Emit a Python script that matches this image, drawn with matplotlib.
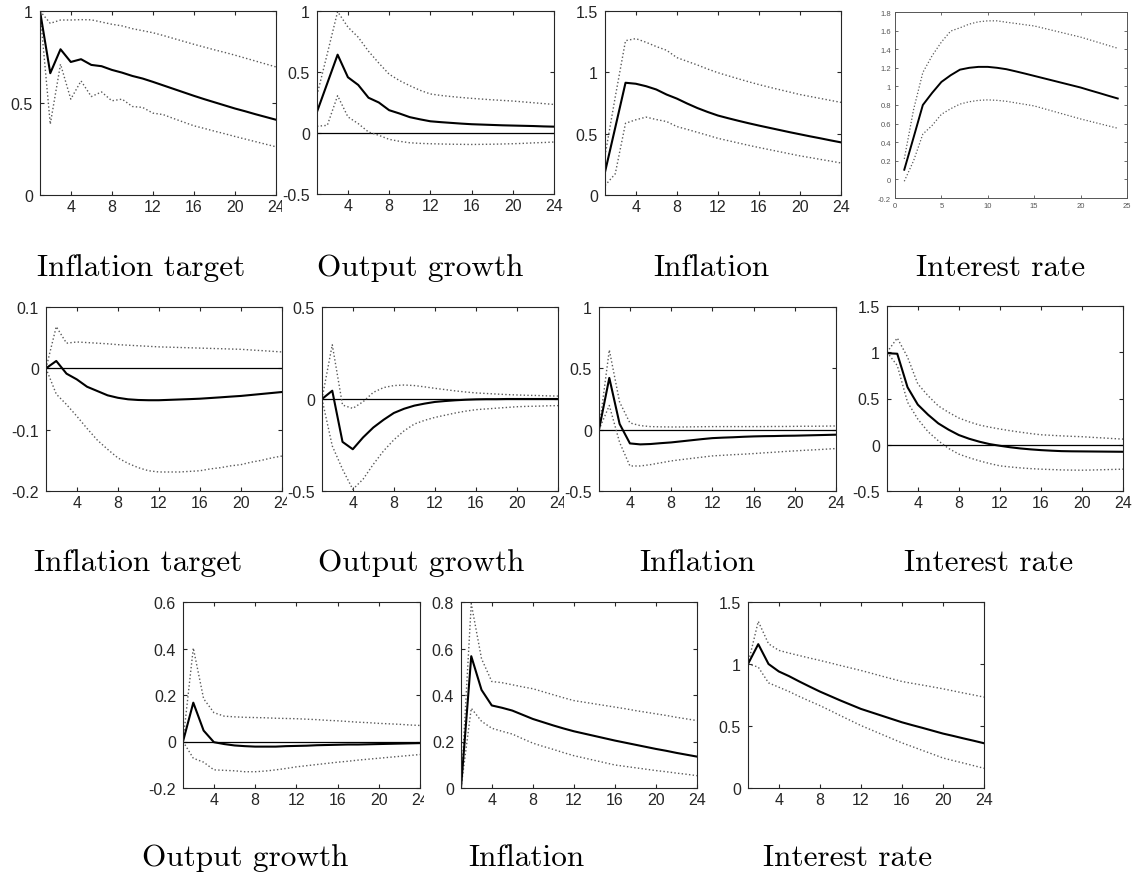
import numpy as np
import matplotlib.pyplot as plt
from matplotlib.ticker import FuncFormatter
from matplotlib.transforms import Bbox, TransformedBbox

plt.rcParams['font.family'] = ['Liberation Sans', 'DejaVu Sans']
plt.rcParams['axes.unicode_minus'] = False

h = np.arange(1, 25)

# row 1 - inflation target shock
it1_med = [1.0, 0.662, 0.792, 0.723, 0.738, 0.707, 0.700, 0.680, 0.665, 0.647, 0.633, 0.615,
           0.596, 0.577, 0.558, 0.539, 0.521, 0.504, 0.487, 0.470, 0.455, 0.439, 0.424, 0.409]
it1_up = [1.0, 0.933, 0.951, 0.951, 0.953, 0.952, 0.940, 0.928, 0.919, 0.904, 0.893, 0.882,
          0.867, 0.851, 0.835, 0.819, 0.804, 0.789, 0.775, 0.760, 0.744, 0.728, 0.712, 0.696]
it1_lo = [1.0, 0.385, 0.711, 0.521, 0.620, 0.535, 0.560, 0.512, 0.521, 0.481, 0.476, 0.445,
          0.437, 0.416, 0.396, 0.376, 0.362, 0.347, 0.333, 0.318, 0.304, 0.290, 0.276, 0.262]

og1_med = [0.174, 0.408, 0.642, 0.457, 0.394, 0.289, 0.250, 0.187, 0.160, 0.130, 0.112, 0.096,
           0.089, 0.083, 0.077, 0.072, 0.069, 0.066, 0.063, 0.061, 0.059, 0.057, 0.054, 0.052]
og1_up = [0.31, 0.65, 0.995, 0.868, 0.785, 0.670, 0.573, 0.482, 0.430, 0.388, 0.350, 0.320,
          0.308, 0.299, 0.291, 0.284, 0.278, 0.272, 0.267, 0.262, 0.255, 0.248, 0.241, 0.234]
og1_lo = [0.055, 0.063, 0.306, 0.132, 0.077, 0.008, -0.019, -0.052, -0.068, -0.080, -0.085, -0.088,
          -0.090, -0.092, -0.093, -0.094, -0.093, -0.092, -0.090, -0.088, -0.085, -0.081, -0.078, -0.074]

inf1_med = [0.187, 0.550, 0.915, 0.907, 0.887, 0.860, 0.819, 0.786, 0.746, 0.709, 0.677, 0.648,
            0.626, 0.605, 0.585, 0.566, 0.548, 0.530, 0.512, 0.495, 0.478, 0.462, 0.445, 0.429]
inf1_up = [0.32, 0.80, 1.258, 1.275, 1.245, 1.210, 1.180, 1.120, 1.090, 1.060, 1.027, 0.997,
           0.972, 0.947, 0.923, 0.900, 0.879, 0.859, 0.839, 0.819, 0.803, 0.787, 0.771, 0.755]
inf1_lo = [0.077, 0.173, 0.585, 0.613, 0.635, 0.615, 0.599, 0.558, 0.535, 0.511, 0.487, 0.462,
           0.443, 0.424, 0.405, 0.387, 0.370, 0.353, 0.336, 0.319, 0.305, 0.290, 0.276, 0.261]

ir1_med = [0.104, 0.450, 0.800, 0.930, 1.048, 1.120, 1.180, 1.200, 1.210, 1.210, 1.200, 1.185,
           1.162, 1.138, 1.113, 1.088, 1.063, 1.038, 1.013, 0.988, 0.958, 0.929, 0.899, 0.870]
ir1_up = [0.22, 0.75, 1.15, 1.33, 1.477, 1.595, 1.630, 1.670, 1.695, 1.705, 1.705, 1.690,
          1.677, 1.663, 1.650, 1.626, 1.602, 1.578, 1.554, 1.530, 1.500, 1.470, 1.440, 1.410]
ir1_lo = [-0.02, 0.20, 0.487, 0.580, 0.700, 0.760, 0.810, 0.835, 0.850, 0.855, 0.850, 0.840,
          0.823, 0.807, 0.790, 0.762, 0.734, 0.706, 0.678, 0.650, 0.625, 0.600, 0.575, 0.550]

# row 2 - interest rate shock
it2_med = [0.0, 0.012, -0.0087, -0.018, -0.030, -0.037, -0.044, -0.048, -0.0505, -0.0516, -0.052, -0.052,
           -0.0514, -0.0508, -0.0502, -0.0495, -0.0484, -0.0473, -0.0461, -0.045, -0.0434, -0.0418, -0.0402, -0.0386]
it2_up = [0.0, 0.068, 0.041, 0.043, 0.042, 0.041, 0.040, 0.0386, 0.0377, 0.0368, 0.0359, 0.035,
          0.0345, 0.034, 0.0335, 0.033, 0.0325, 0.032, 0.0315, 0.031, 0.0299, 0.0289, 0.0278, 0.0267]
it2_lo = [0.0, -0.042, -0.059, -0.078, -0.098, -0.117, -0.132, -0.146, -0.155, -0.162, -0.167, -0.169,
          -0.169, -0.169, -0.168, -0.167, -0.164, -0.162, -0.159, -0.157, -0.153, -0.150, -0.146, -0.143]

og2_med = [0.0, 0.045, -0.233, -0.273, -0.209, -0.155, -0.113, -0.076, -0.053, -0.036, -0.025, -0.016,
           -0.011, -0.007, -0.004, -0.002, -0.001, -0.001, 0.0, 0.0, 0.0, 0.0, 0.0, 0.0]
og2_up = [0.0, 0.295, -0.033, -0.051, -0.015, 0.036, 0.062, 0.073, 0.076, 0.073, 0.066, 0.058,
          0.051, 0.044, 0.038, 0.033, 0.030, 0.027, 0.024, 0.022, 0.020, 0.019, 0.017, 0.016]
og2_lo = [0.0, -0.255, -0.382, -0.491, -0.436, -0.355, -0.282, -0.222, -0.173, -0.136, -0.116, -0.100,
          -0.088, -0.076, -0.066, -0.058, -0.054, -0.050, -0.046, -0.042, -0.040, -0.039, -0.037, -0.036]

inf2_med = [0.0, 0.422, 0.047, -0.112, -0.120, -0.117, -0.110, -0.104, -0.095, -0.086, -0.077, -0.069,
            -0.065, -0.062, -0.058, -0.055, -0.053, -0.052, -0.050, -0.049, -0.047, -0.045, -0.043, -0.041]
inf2_up = [0.0, 0.650, 0.225, 0.055, 0.033, 0.025, 0.023, 0.022, 0.022, 0.023, 0.024, 0.025,
           0.025, 0.025, 0.025, 0.025, 0.025, 0.026, 0.026, 0.027, 0.028, 0.028, 0.029, 0.030]
inf2_lo = [0.0, 0.197, -0.104, -0.296, -0.296, -0.285, -0.270, -0.255, -0.244, -0.234, -0.224, -0.214,
           -0.209, -0.204, -0.200, -0.195, -0.189, -0.184, -0.178, -0.173, -0.168, -0.164, -0.159, -0.154]

ir2_med = [0.99, 0.984, 0.622, 0.434, 0.325, 0.231, 0.163, 0.105, 0.065, 0.033, 0.007, -0.011,
           -0.027, -0.040, -0.050, -0.058, -0.064, -0.069, -0.071, -0.072, -0.073, -0.074, -0.075, -0.076]
ir2_up = [1.0, 1.154, 0.948, 0.658, 0.530, 0.420, 0.350, 0.289, 0.248, 0.213, 0.190, 0.170,
          0.152, 0.136, 0.121, 0.108, 0.102, 0.096, 0.091, 0.087, 0.080, 0.074, 0.067, 0.061]
ir2_lo = [1.0, 0.857, 0.460, 0.278, 0.141, 0.043, -0.040, -0.101, -0.140, -0.174, -0.203, -0.228,
          -0.240, -0.250, -0.258, -0.264, -0.268, -0.272, -0.274, -0.275, -0.273, -0.270, -0.267, -0.264]

# row 3 - third shock
og3_med = [0.0, 0.167, 0.047, -0.003, -0.011, -0.017, -0.020, -0.022, -0.022, -0.022, -0.020, -0.019,
           -0.018, -0.016, -0.015, -0.014, -0.013, -0.013, -0.012, -0.011, -0.010, -0.009, -0.008, -0.007]
og3_up = [0.0, 0.402, 0.184, 0.124, 0.109, 0.106, 0.104, 0.103, 0.102, 0.100, 0.099, 0.098,
          0.096, 0.094, 0.091, 0.089, 0.086, 0.083, 0.081, 0.078, 0.076, 0.074, 0.071, 0.069]
og3_lo = [0.0, -0.072, -0.089, -0.122, -0.124, -0.126, -0.130, -0.130, -0.127, -0.122, -0.116, -0.109,
          -0.104, -0.099, -0.094, -0.089, -0.085, -0.080, -0.076, -0.072, -0.068, -0.064, -0.060, -0.056]

inf3_med = [0.0, 0.567, 0.422, 0.355, 0.345, 0.333, 0.315, 0.297, 0.283, 0.269, 0.256, 0.244,
            0.234, 0.224, 0.214, 0.204, 0.195, 0.186, 0.177, 0.168, 0.160, 0.151, 0.143, 0.135]
inf3_up = [0.0, 0.793, 0.556, 0.458, 0.453, 0.444, 0.435, 0.427, 0.414, 0.401, 0.388, 0.376,
           0.369, 0.362, 0.355, 0.348, 0.341, 0.333, 0.326, 0.319, 0.312, 0.304, 0.297, 0.290]
inf3_lo = [0.0, 0.343, 0.287, 0.257, 0.244, 0.232, 0.212, 0.193, 0.179, 0.166, 0.152, 0.139,
           0.129, 0.119, 0.109, 0.099, 0.093, 0.087, 0.081, 0.075, 0.070, 0.064, 0.059, 0.053]

ir3_med = [1.0, 1.16, 1.0, 0.94, 0.902, 0.859, 0.818, 0.778, 0.742, 0.706, 0.672, 0.638,
           0.611, 0.584, 0.557, 0.530, 0.507, 0.485, 0.462, 0.439, 0.420, 0.400, 0.381, 0.361]
ir3_up = [1.0, 1.344, 1.163, 1.110, 1.088, 1.068, 1.048, 1.029, 1.009, 0.988, 0.968, 0.948,
          0.926, 0.903, 0.881, 0.859, 0.844, 0.830, 0.815, 0.800, 0.783, 0.766, 0.750, 0.733]
ir3_lo = [1.0, 0.975, 0.848, 0.813, 0.778, 0.738, 0.701, 0.665, 0.625, 0.584, 0.544, 0.504,
          0.469, 0.434, 0.399, 0.364, 0.334, 0.303, 0.273, 0.242, 0.221, 0.201, 0.180, 0.159]

W, H = 1136, 878
fig = plt.figure(figsize=(W / 100, H / 100), dpi=100)
fmt = FuncFormatter(lambda v, p: f'{v:g}')


def panel(box, med, up, lo, ylim, yticks, zero=False, clip_x=None):
    x0, y0, x1, y1 = box
    ax = fig.add_axes([x0 / W, 1 - y1 / H, (x1 - x0) / W, (y1 - y0) / H])
    if zero:
        ax.axhline(0, color='black', lw=0.9)
    ax.plot(h, up, ls=':', color='#5a5a5a', lw=1.0)
    ax.plot(h, lo, ls=':', color='#5a5a5a', lw=1.0)
    ax.plot(h, med, color='black', lw=1.5)
    ax.set_xlim(1, 24)
    ax.set_xticks([4, 8, 12, 16, 20, 24])
    ax.set_ylim(ylim)
    ax.set_yticks(yticks)
    ax.yaxis.set_major_formatter(fmt)
    ax.tick_params(direction='in', top=True, right=True, length=3, width=0.8,
                   labelsize=11.5, colors='#262626')
    ax.tick_params(axis='x', pad=3)
    ax.tick_params(axis='y', pad=5)
    for s in ax.spines.values():
        s.set_color('#262626')
        s.set_linewidth(0.8)
    if clip_x is not None:
        cb = TransformedBbox(Bbox.from_extents(0, 0, clip_x / W, 1), fig.transFigure)
        for t in ax.xaxis.get_major_ticks():
            t.label1.set_clip_box(cb)
            t.label1.set_clip_on(True)
    return ax


panel((40, 12, 276, 196), it1_med, it1_up, it1_lo, (0, 1), [0, 0.5, 1], clip_x=282)
panel((317, 12, 554, 195), og1_med, og1_up, og1_lo, (-0.5, 1), [-0.5, 0, 0.5, 1], zero=True)
panel((605, 12, 841, 196), inf1_med, inf1_up, inf1_lo, (0, 1.5), [0, 0.5, 1, 1.5])

# the small interest rate panel, exported with default MATLAB axes
ax4 = fig.add_axes([895 / W, 1 - 199 / H, (1127 - 895) / W, (199 - 13) / H])
ax4.plot(h, ir1_up, ls=':', color='#5a5a5a', lw=0.9)
ax4.plot(h, ir1_lo, ls=':', color='#5a5a5a', lw=0.9)
ax4.plot(h, ir1_med, color='black', lw=1.4)
ax4.set_xlim(0, 25)
ax4.set_xticks([0, 5, 10, 15, 20, 25])
ax4.set_ylim(-0.2, 1.8)
ax4.set_yticks(np.round(np.arange(-0.2, 1.81, 0.2), 1))
ax4.yaxis.set_major_formatter(fmt)
ax4.tick_params(direction='in', top=True, right=True, length=2, width=0.6,
                labelsize=5.5, colors='#555555', pad=3)
for s in ax4.spines.values():
    s.set_color('#555555')
    s.set_linewidth(0.7)

panel((46, 308, 282, 492), it2_med, it2_up, it2_lo, (-0.2, 0.1), [-0.2, -0.1, 0, 0.1], zero=True, clip_x=287)
panel((322, 308, 558, 492), og2_med, og2_up, og2_lo, (-0.5, 0.5), [-0.5, 0, 0.5], zero=True, clip_x=564)
panel((599, 308, 836, 492), inf2_med, inf2_up, inf2_lo, (-0.5, 1), [-0.5, 0, 0.5, 1], zero=True)
panel((887, 307, 1123, 492), ir2_med, ir2_up, ir2_lo, (-0.5, 1.5), [-0.5, 0, 0.5, 1, 1.5], zero=True)

panel((183, 603, 420, 789), og3_med, og3_up, og3_lo, (-0.2, 0.6), [-0.2, 0, 0.2, 0.4, 0.6], zero=True, clip_x=424)
panel((461, 603, 697, 789), inf3_med, inf3_up, inf3_lo, (0, 0.8), [0, 0.2, 0.4, 0.6, 0.8])
panel((748, 603, 984, 789), ir3_med, ir3_up, ir3_lo, (0, 1.5), [0, 0.5, 1, 1.5])

captions = [
    ('Inflation target', 141, 268), ('Output growth', 420, 268),
    ('Inflation', 711, 268), ('Interest rate', 1001, 268),
    ('Inflation target', 138, 563), ('Output growth', 421, 563),
    ('Inflation', 697, 563), ('Interest rate', 989, 563),
    ('Output growth', 245, 858), ('Inflation', 526, 858), ('Interest rate', 848, 858),
]
for txt, cx, cy in captions:
    fig.text(cx / W, 1 - cy / H, txt, family='cmr10', fontsize=22.5,
             ha='center', va='center', color='black')

fig.savefig('out.png', dpi=100, facecolor='white')
